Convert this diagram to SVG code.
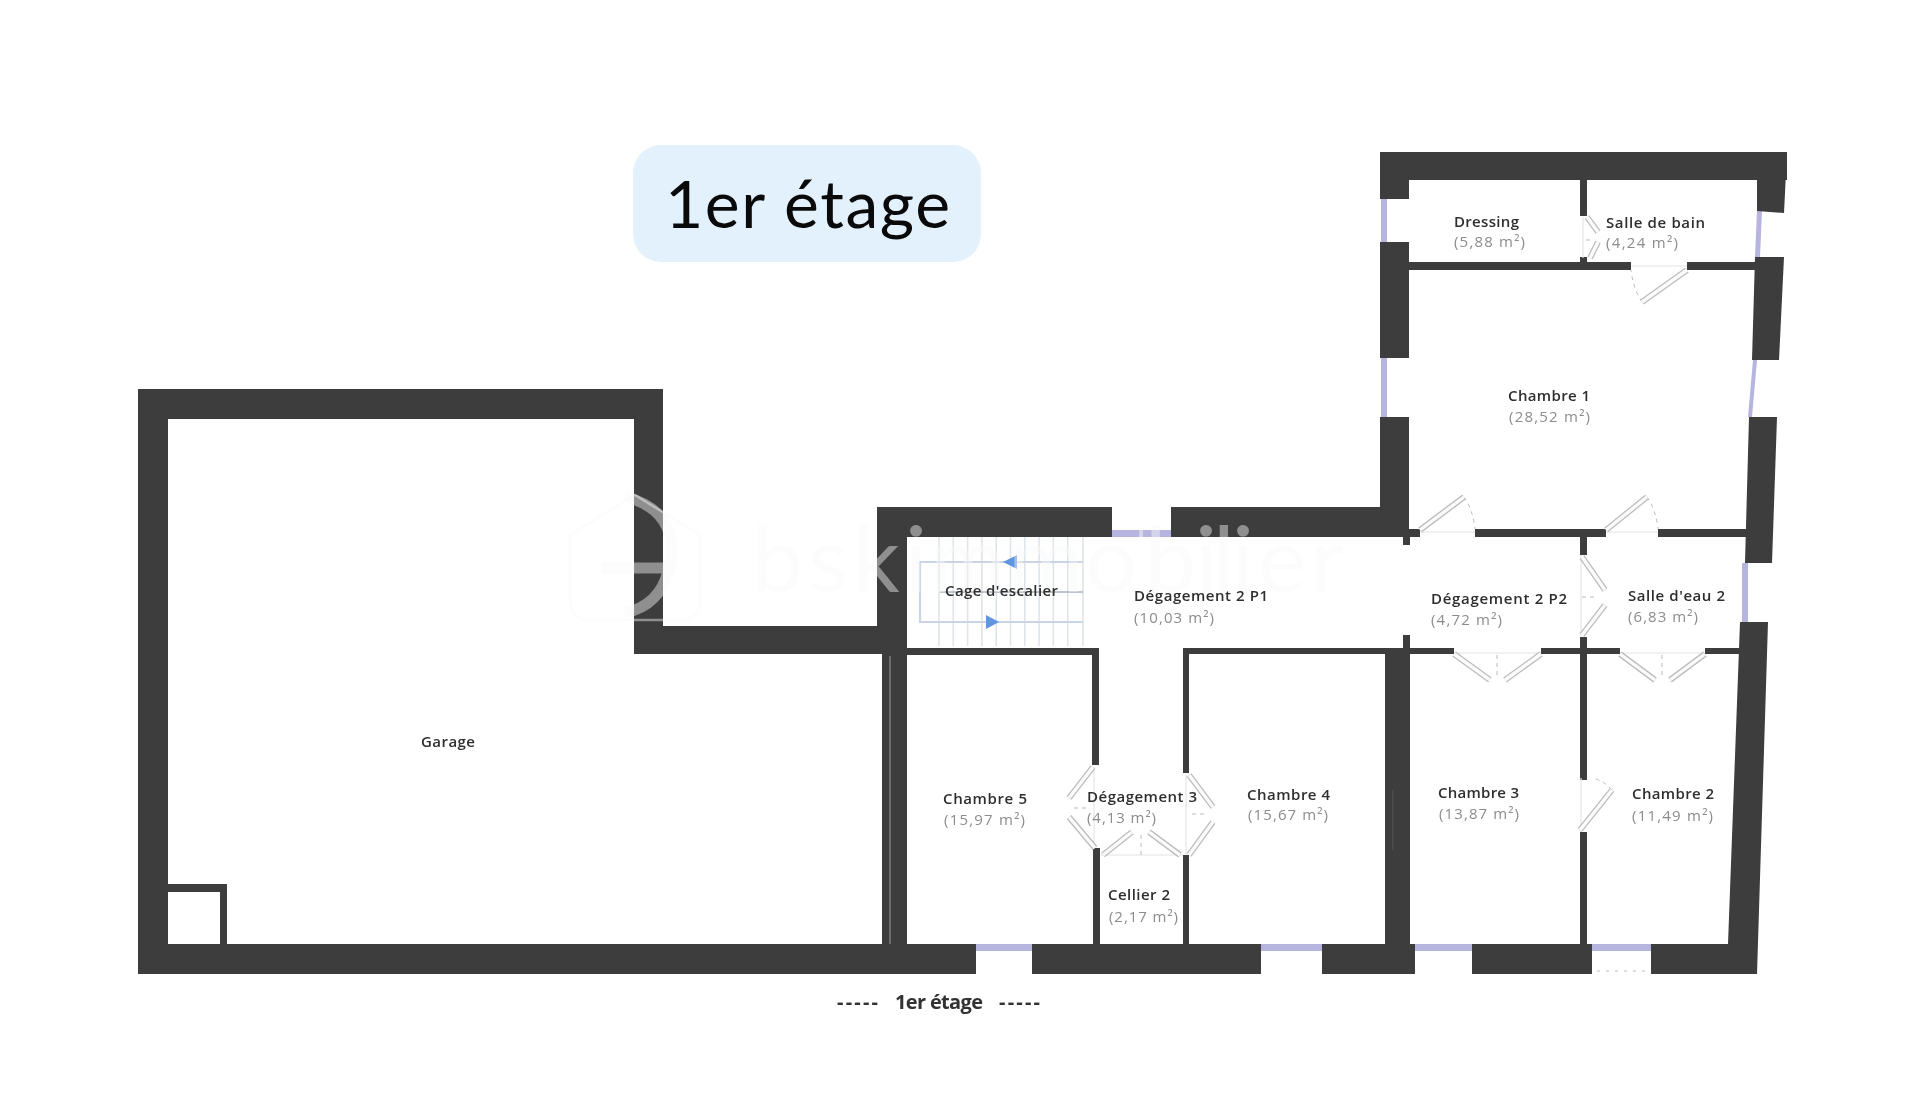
<svg xmlns="http://www.w3.org/2000/svg" width="1920" height="1120" viewBox="0 0 1920 1120">
<defs>
<filter id="soft" x="-5%" y="-5%" width="110%" height="110%"><feGaussianBlur stdDeviation="0.7"/></filter>
<filter id="softer" x="-5%" y="-20%" width="110%" height="140%"><feGaussianBlur stdDeviation="0.55"/></filter>
</defs>
<style>
.w{fill:#3c3c3c}
.g{fill:#b5b5e0}
.leaf{fill:none;stroke-linecap:butt}
.lo{stroke:#bdbdbd;stroke-width:6}
.li{stroke:#fbfbfb;stroke-width:3.4}
.th{fill:none;stroke:#e4e4e4;stroke-width:1.2}
.arc{fill:none;stroke:#bbbbbb;stroke-width:1;stroke-dasharray:4 4}
.st{stroke:#dfe4e8;stroke-width:1.6}
.rail{fill:none;stroke:#c9d5e4;stroke-width:2.2}
.n{font-family:"Open Sans","Noto Sans",sans-serif;font-weight:600;font-size:15px;fill:#2e2e2e}
.a{font-family:"Open Sans","Noto Sans",sans-serif;font-weight:400;font-size:15px;fill:#8c8c8c}
.wm{font-family:Lato,"Open Sans",sans-serif;font-weight:400;font-size:92px;fill:#f9f9f9;opacity:.44}
</style>
<rect width="1920" height="1120" fill="#ffffff"/>

<g id="titre">
<rect x="633" y="145" width="348" height="117" rx="28" fill="#e3f1fc"/>
<text x="665" y="228" textLength="285" lengthAdjust="spacing" font-family="Lato,'Open Sans',sans-serif" font-size="66" fill="#0a0a0a">1er étage</text>
</g>

<g id="plan" filter="url(#soft)">
<g id="fenetres">
<rect class="g" x="1381" y="199" width="6" height="43"/>
<rect class="g" x="1381" y="358" width="6" height="59"/>
<polygon class="g" points="1757,211 1762,211 1760,257 1755,257"/>
<polygon class="g" points="1753,360 1757,360 1752,417 1748,417"/>
<rect class="g" x="1742" y="563" width="6" height="59"/>
<rect class="g" x="1112" y="530" width="59" height="7"/>
<rect x="1139" y="530" width="4" height="7" fill="#d4d4ea"/>
<rect class="g" x="976" y="944" width="56" height="7"/>
<rect class="g" x="1261" y="944" width="61" height="7"/>
<rect class="g" x="1414" y="944" width="58" height="7"/>
<rect class="g" x="1592" y="944" width="59" height="7"/>
<path d="M1597 971H1650" stroke="#dddddd" stroke-width="2" stroke-dasharray="3 6" fill="none"/>
</g>

<g id="escalier">
<path class="st" d="M939 537V646M953.300 537V646M967.600 537V646M981.900 537V646M996.200 537V646M1010.500 537V646M1024.800 537V646M1039.100 537V646M1053.400 537V646M1067.700 537V646M1083 537V646"/>
<path class="rail" d="M1083 562H920V622H1083"/>
<path d="M940 592H1083" stroke="#aab2bb" stroke-width="1.4" fill="none"/>
<polygon points="1003,562 1017,555 1017,569" fill="#6195e2"/>
<polygon points="999,622 986,615 986,629" fill="#6195e2"/>
</g>

<g id="murs">
<rect class="w" x="138" y="389" width="525" height="30"/>
<rect class="w" x="138" y="389" width="30" height="585"/>
<rect class="w" x="138" y="944" width="838" height="30"/>
<rect class="w" x="634" y="389" width="29" height="265"/>
<rect class="w" x="634" y="626" width="273" height="28"/>
<rect class="w" x="877" y="507" width="235" height="30"/>
<rect class="w" x="877" y="507" width="30" height="147"/>
<rect class="w" x="1171" y="507" width="238" height="30"/>
<rect class="w" x="168" y="884" width="59" height="8"/>
<rect class="w" x="220" y="884" width="7" height="62"/>
<rect class="w" x="882" y="654" width="25" height="292"/>
<rect x="889" y="656" width="2" height="288" fill="#6e6e6e"/>
<rect class="w" x="907" y="648" width="192" height="7"/>
<rect class="w" x="1092" y="648" width="7" height="117"/>
<rect class="w" x="1093" y="848" width="7" height="98"/>
<rect class="w" x="1183" y="648" width="6" height="125"/>
<rect class="w" x="1183" y="855" width="6" height="91"/>
<rect class="w" x="1183" y="648" width="271" height="6"/>
<rect class="w" x="1541" y="648" width="79" height="6"/>
<rect class="w" x="1705" y="648" width="37" height="6"/>
<rect class="w" x="1385" y="654" width="25" height="292"/>
<rect x="1392" y="790" width="1.500" height="60" fill="#4c4c4c"/>
<rect class="w" x="1403" y="635" width="7" height="19"/>
<rect class="w" x="1580" y="637" width="7" height="143"/>
<rect class="w" x="1580" y="832" width="7" height="114"/>
<rect class="w" x="1032" y="944" width="229" height="30"/>
<rect class="w" x="1322" y="944" width="93" height="30"/>
<rect class="w" x="1472" y="944" width="120" height="30"/>
<polygon class="w" points="1740,622 1768,622 1757,974 1651,974 1651,944 1728,944"/>
<rect class="w" x="1380" y="152" width="407" height="28"/>
<polygon class="w" points="1380,152 1409,152 1409,199 1380,199"/>
<polygon class="w" points="1757,152 1787,152 1784,213 1757,211"/>
<rect class="w" x="1380" y="242" width="29" height="116"/>
<polygon class="w" points="1755,257 1784,257 1779,360 1752,360"/>
<rect class="w" x="1380" y="417" width="29" height="120"/>
<polygon class="w" points="1749,417 1777,417 1772,563 1745,563"/>
<rect class="w" x="1580" y="180" width="7" height="36"/>
<rect class="w" x="1580" y="257" width="7" height="6"/>
<rect class="w" x="1409" y="262" width="222" height="8"/>
<rect class="w" x="1687" y="262" width="69" height="8"/>
<rect class="w" x="1403" y="529" width="17" height="8"/>
<rect class="w" x="1403" y="537" width="7" height="8"/>
<rect class="w" x="1475" y="529" width="131" height="8"/>
<rect class="w" x="1580" y="537" width="7" height="18"/>
<rect class="w" x="1658" y="529" width="88" height="8"/>
</g>

<g id="portes">
<path class="th" d="M1420 532H1475M1606 532H1658M1631 266H1687M1583 217V258M1581 555V636M1454 653H1541M1620 653H1705M1581 778V832M1094 767V848M1186 775V855M1100 855H1183"/>
<path class="arc" d="M1464 497Q1473 510 1475 529M1647 497Q1656 510 1658 529M1642 302Q1633 288 1631 270M1612 790Q1603 780 1592 778M1586 240H1594M1582 597H1598M1497 655V678M1662 655V678M1074 808H1090M1192 814H1208M1141 835V855"/>
<path class="leaf lo" d="M1420 530L1464 497M1606 530L1647 497M1687 270L1642 302M1587 217L1598 232M1590 258L1598 242M1582 557L1605 590M1582 635L1605 605M1454 654L1490 680M1541 654L1505 680M1620 654L1655 680M1705 654L1670 680M1580 830L1612 790M1093 767L1069 798M1095 848L1069 817M1103 855L1132 832M1180 855L1149 832M1189 775L1213 807M1189 855L1213 822"/>
<path class="leaf li" d="M1420 530L1464 497M1606 530L1647 497M1687 270L1642 302M1587 217L1598 232M1590 258L1598 242M1582 557L1605 590M1582 635L1605 605M1454 654L1490 680M1541 654L1505 680M1620 654L1655 680M1705 654L1670 680M1580 830L1612 790M1093 767L1069 798M1095 848L1069 817M1103 855L1132 832M1180 855L1149 832M1189 775L1213 807M1189 855L1213 822"/>
</g>
</g>

<g id="filigrane">
<path d="M635 495L700 535V600Q700 620 680 620H590Q570 620 570 600V535Z" fill="none" stroke="#f9f9f9" opacity=".44" stroke-width="2.500"/>
<path d="M625 497Q680 510 670 568H602M668 571Q660 605 625 613" fill="none" stroke="#f9f9f9" stroke-width="11" opacity=".44"/>
<text class="wm" x="752 808 853 905 930 1008 1085 1145 1195 1213 1232 1258 1310" y="592">bskimmobilier</text>
</g>

<g id="etiquettes" filter="url(#softer)">
<text class="n" x="421" y="747" textLength="54" font-size="14">Garage</text>
<text class="n" x="1454" y="227" textLength="65">Dressing</text>
<text class="a" x="1454" y="247" textLength="71">(5,88 m²)</text>
<text class="n" x="1606" y="228" textLength="99">Salle de bain</text>
<text class="a" x="1606" y="248" textLength="72">(4,24 m²)</text>
<text class="n" x="1508" y="401" textLength="82">Chambre 1</text>
<text class="a" x="1509" y="422" textLength="81">(28,52 m²)</text>
<text class="n" x="945" y="596" textLength="113">Cage d'escalier</text>
<text class="n" x="1134" y="601" textLength="134">Dégagement 2 P1</text>
<text class="a" x="1134" y="623" textLength="80">(10,03 m²)</text>
<text class="n" x="1431" y="604" textLength="136">Dégagement 2 P2</text>
<text class="a" x="1431" y="625" textLength="71">(4,72 m²)</text>
<text class="n" x="1628" y="601" textLength="97">Salle d'eau 2</text>
<text class="a" x="1628" y="622" textLength="70">(6,83 m²)</text>
<text class="n" x="943" y="804" textLength="84">Chambre 5</text>
<text class="a" x="944" y="825" textLength="81">(15,97 m²)</text>
<text class="n" x="1087" y="802" textLength="110">Dégagement 3</text>
<text class="a" x="1087" y="823" textLength="69">(4,13 m²)</text>
<text class="n" x="1108" y="900" textLength="62">Cellier 2</text>
<text class="a" x="1109" y="922" textLength="69">(2,17 m²)</text>
<text class="n" x="1247" y="800" textLength="83">Chambre 4</text>
<text class="a" x="1248" y="820" textLength="80">(15,67 m²)</text>
<text class="n" x="1438" y="798" textLength="81">Chambre 3</text>
<text class="a" x="1439" y="819" textLength="80">(13,87 m²)</text>
<text class="n" x="1632" y="799" textLength="82">Chambre 2</text>
<text class="a" x="1632" y="821" textLength="81">(11,49 m²)</text>
<text font-family="'Open Sans',sans-serif" font-weight="700" font-size="20" fill="#333" y="1009"><tspan x="837" textLength="41">-----</tspan><tspan x="895" textLength="88">1er étage</tspan><tspan x="999" textLength="41">-----</tspan></text>
</g>
</svg>
